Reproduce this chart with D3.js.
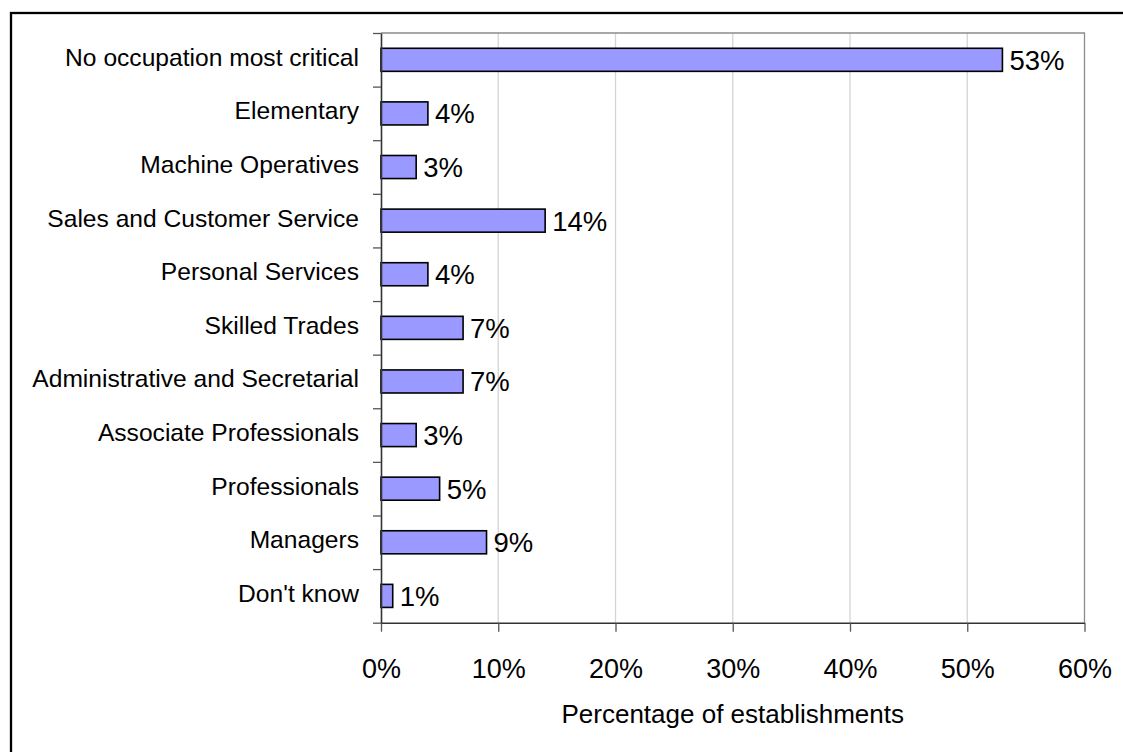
<!DOCTYPE html>
<html>
<head>
<meta charset="utf-8">
<script src="https://cdn.jsdelivr.net/npm/d3@7"></script>
<style>
  html, body { margin: 0; padding: 0; background: #fff; }
  svg { display: block; font-family: "Liberation Sans", Arial, sans-serif; }
</style>
</head>
<body>
<svg id="chart" width="1123" height="752"></svg>
<script>
// Most critical occupation (share of establishments)
const categories = [
  "No occupation most critical",
  "Elementary",
  "Machine Operatives",
  "Sales and Customer Service",
  "Personal Services",
  "Skilled Trades",
  "Administrative and Secretarial",
  "Associate Professionals",
  "Professionals",
  "Managers",
  "Don't know"
];
const shares = [0.53, 0.04, 0.03, 0.14, 0.04, 0.07, 0.07, 0.03, 0.05, 0.09, 0.01];
const xTicks = [0, 0.1, 0.2, 0.3, 0.4, 0.5, 0.6];
const xTitle = "Percentage of establishments";

const svg = d3.select("#chart");
const plot = { left: 381, right: 1084.5, top: 33, bottom: 622.7 };
const pct = d3.format(".0%");

// outer frame (continues past the right and bottom edges)
svg.append("rect")
  .attr("x", 11).attr("y", 13)
  .attr("width", 1300).attr("height", 900)
  .attr("fill", "none").attr("stroke", "#000").attr("stroke-width", 2.3);

const x = d3.scaleLinear().domain([0, 0.6]).range([plot.left, plot.right]);
const y = d3.scaleBand().domain(categories).range([plot.top, plot.bottom])
  .paddingInner(0.57).paddingOuter(0.285);

// vertical gridlines
svg.append("g").selectAll("line")
  .data(xTicks.slice(1, -1))
  .join("line")
  .attr("x1", d => x(d)).attr("x2", d => x(d))
  .attr("y1", plot.top).attr("y2", plot.bottom)
  .attr("stroke", "#d4d4d4").attr("stroke-width", 1.3);

// plot area top and right edges
svg.append("path")
  .attr("d", `M${plot.left},${plot.top}H${plot.right}V${plot.bottom}`)
  .attr("fill", "none").attr("stroke", "#8c8c8c").attr("stroke-width", 1.3);

// bars
svg.append("g").selectAll("rect")
  .data(categories)
  .join("rect")
  .attr("x", x(0))
  .attr("y", d => y(d))
  .attr("width", (d, i) => x(shares[i]) - x(0))
  .attr("height", y.bandwidth())
  .attr("fill", "#9999ff")
  .attr("stroke", "#000").attr("stroke-width", 1.6);

// value labels
svg.append("g").selectAll("text")
  .data(categories)
  .join("text")
  .attr("x", (d, i) => x(shares[i]) + 7)
  .attr("y", d => y(d) + y.bandwidth() / 2 + 10)
  .attr("font-size", 27.5)
  .attr("fill", "#000")
  .text((d, i) => pct(shares[i]));

// x axis
const xAxis = svg.append("g")
  .attr("transform", `translate(0,${plot.bottom})`)
  .call(d3.axisBottom(x).tickValues(xTicks).tickFormat(pct).tickSize(9).tickSizeOuter(0));
xAxis.select(".domain").attr("stroke", "#333").attr("stroke-width", 1.6);
xAxis.selectAll(".tick line").attr("stroke", "#555").attr("stroke-width", 1.3);
xAxis.selectAll(".tick text")
  .attr("font-size", 27).attr("font-family", "Liberation Sans, Arial, sans-serif")
  .attr("fill", "#000").attr("dy", 0).attr("y", 55);

// y axis: ticks between the category bands
const yEdges = d3.scaleLinear().domain([0, categories.length]).range([plot.top, plot.bottom]);
const yAxis = svg.append("g")
  .attr("transform", `translate(${plot.left},0)`)
  .call(d3.axisLeft(yEdges).tickValues(d3.range(categories.length + 1))
    .tickFormat("").tickSize(8).tickSizeOuter(0));
yAxis.select(".domain").attr("stroke", "#333").attr("stroke-width", 1.6);
yAxis.selectAll(".tick line").attr("stroke", "#555").attr("stroke-width", 1.3);

// category labels
svg.append("g").selectAll("text")
  .data(categories)
  .join("text")
  .attr("x", 359)
  .attr("y", d => y(d) + y.bandwidth() / 2 + 6)
  .attr("text-anchor", "end")
  .attr("font-size", 24.6)
  .attr("fill", "#000")
  .text(d => d);

// axis title
svg.append("text")
  .attr("x", (plot.left + plot.right) / 2)
  .attr("y", 723)
  .attr("text-anchor", "middle")
  .attr("font-size", 26)
  .attr("fill", "#000")
  .text(xTitle);
</script>
</body>
</html>
